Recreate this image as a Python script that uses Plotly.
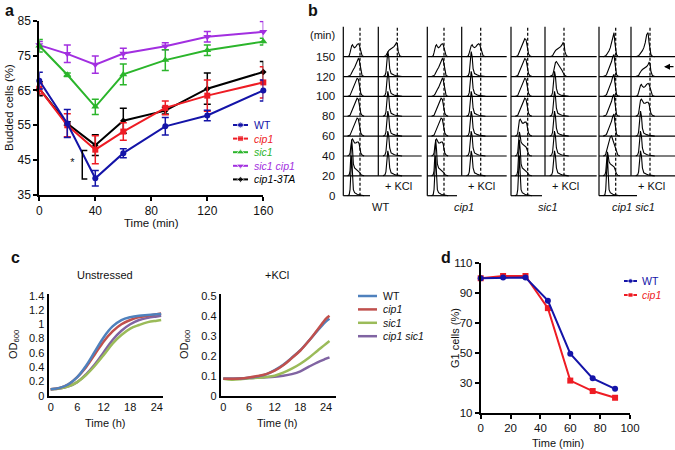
import plotly.graph_objects as go

W, H = 675, 450
def px(x): return x / W
def py(y): return 1 - y / H

FONT = "Liberation Sans, Arial, sans-serif"

# ---------------- Panel a data ----------------
time_a = [0, 20, 40, 60, 90, 120, 160]
wt_a = [67.8, 55.5, 39.8, 47.0, 54.7, 57.8, 65.0]
wt_a_err = [2.4, 4.0, 2.2, 1.3, 2.5, 1.5, 3.0]
cip1_a = [65.5, 55.0, 48.0, 53.2, 60.0, 63.5, 67.3]
cip1_a_err = [1.5, 3.3, 4.0, 2.5, 2.0, 4.5, 4.5]
sic1_a = [77.8, 69.5, 60.3, 69.6, 73.7, 76.5, 79.0]
sic1_a_err = [1.8, 0.5, 2.2, 3.0, 3.0, 1.5, 1.0]
sic1cip1_a = [78.0, 75.5, 72.4, 75.6, 77.7, 80.4, 81.8]
sic1cip1_a_err = [1.0, 2.5, 2.5, 1.5, 1.0, 1.5, 3.0]
cip13ta_a = [65.5, 55.5, 49.3, 56.3, 59.2, 65.5, 70.3]
cip13ta_a_err = [2.0, 0.5, 3.0, 3.6, 1.0, 4.5, 3.0]
labels_a = ["WT", "<i>cip1</i>", "<i>sic1</i>", "<i>sic1 cip1</i>", "<i>cip1-3TA</i>"]
sig_a = {"text": "*", "t": 23.7, "v": 44.1, "lo": 39.6, "hi": 47.8}

# ---------------- Panel b data ----------------
b_times = ["0", "20", "40", "60", "80", "100", "120", "150"]
b_strains = ["WT", "<i>cip1</i>", "<i>sic1</i>", "<i>cip1 sic1</i>"]
dna_grid = [0.5, 0.7, 0.8, 0.9, 1.0, 1.1, 1.2, 1.35, 1.5, 1.65, 1.8, 1.9, 2.0, 2.1, 2.25, 2.5]
prof_g1_sharp = [0, 1, 6, 26, 40, 22, 6, 3, 2, 1.5, 1.2, 1, 0.8, 0.5, 0.2, 0]
prof_g1_tail = [0, 1, 5, 22, 36, 26, 12, 8, 7, 6, 5, 4, 3, 1.5, 0.5, 0]
prof_g1_shoulder = [0, 1, 4, 14, 24, 20, 14, 12, 11, 10, 9, 7, 4, 2, 0.5, 0]
prof_two_hump = [0, 1, 3, 10, 16, 17, 15, 13, 13, 14, 14, 12, 7, 3, 1, 0]
prof_mid_s = [0, 0.5, 2, 5, 8, 11, 15, 19, 20, 16, 12, 9, 6, 3, 1, 0]
prof_late_s = [0, 0.5, 1, 3, 5, 7, 9, 12, 15, 18, 17, 13, 7, 3, 1, 0]
prof_g2 = [0, 0.5, 1, 2, 4, 5, 7, 9, 12, 15, 18, 17, 12, 5, 1, 0]
prof_late_tall = [0, 0.5, 1, 2, 4, 6, 8, 11, 15, 20, 22, 14, 6, 2, 0.5, 0]
prof_broad = [0, 1, 4, 9, 11, 12, 10, 9, 10, 12, 13, 12, 9, 4, 1, 0]
prof_g1_kcl = [0, 1, 4, 16, 25, 20, 8, 3, 2, 1.5, 1, 0.8, 0.5, 0.3, 0, 0]
prof_escape = [0, 0.5, 1, 3, 5, 6, 7, 8, 9, 10, 12, 14, 13, 5, 1, 0]
prof_skew = [0, 0.5, 1.5, 5, 10, 14, 15, 13, 10, 8, 6, 4, 2, 1, 0.3, 0]
prof_sharp_g2 = [0, 0.5, 1, 2, 3, 4, 6, 9, 14, 22, 24, 14, 5, 2, 0.5, 0]
profiles = {
    "g1_sharp": prof_g1_sharp, "g1_tail": prof_g1_tail, "g1_shoulder": prof_g1_shoulder,
    "two_hump": prof_two_hump, "mid_s": prof_mid_s, "late_s": prof_late_s, "g2": prof_g2,
    "late_tall": prof_late_tall, "broad": prof_broad, "g1_kcl": prof_g1_kcl,
    "escape": prof_escape, "skew": prof_skew, "sharp_g2": prof_sharp_g2,
}
# one profile name per time row (0 ... 150 min)
b_untreated = [
    ["g1_sharp", "g1_tail", "two_hump", "late_s", "late_s", "late_s", "g2", "broad"],
    ["g1_sharp", "g1_tail", "two_hump", "late_s", "late_s", "g2", "g2", "broad"],
    ["g1_sharp", "g1_tail", "g1_shoulder", "two_hump", "late_s", "late_s", "late_s", "late_s"],
    ["g1_sharp", "g1_shoulder", "mid_s", "late_tall", "late_tall", "late_tall", "late_tall", "sharp_g2"],
]
b_kcl = [
    [None, "g1_kcl", "g1_kcl", "g1_kcl", "g1_kcl", "g1_kcl", "g1_kcl", "escape"],
    [None, "g1_kcl", "g1_kcl", "g1_kcl", "g1_kcl", "g1_kcl", "g1_kcl", "broad"],
    [None, "g1_kcl", "g1_kcl", "g1_kcl", "g1_kcl", "g1_kcl", "skew", "escape"],
    [None, "g1_kcl", "g1_kcl", "g1_kcl", "two_hump", "broad", "escape", "sharp_g2"],
]

# ---------------- Panel c data ----------------
hours_c = [0, 2, 4, 6, 8, 10, 12, 14, 16, 18, 20, 22, 24, 25]
un_wt = [0.09, 0.11, 0.16, 0.26, 0.42, 0.62, 0.82, 0.97, 1.06, 1.10, 1.12, 1.13, 1.14, 1.145]
un_cip1 = [0.09, 0.11, 0.16, 0.26, 0.40, 0.58, 0.76, 0.90, 1.00, 1.06, 1.10, 1.12, 1.14, 1.15]
un_sic1 = [0.09, 0.10, 0.13, 0.19, 0.29, 0.42, 0.57, 0.73, 0.85, 0.94, 0.99, 1.03, 1.05, 1.06]
un_cip1sic1 = [0.09, 0.10, 0.13, 0.19, 0.30, 0.44, 0.61, 0.78, 0.91, 1.00, 1.06, 1.09, 1.11, 1.12]
hours_k = [0, 2, 4, 6, 8, 10, 12, 14, 16, 18, 20, 22, 24, 24.8]
k_wt = [0.085, 0.085, 0.086, 0.09, 0.096, 0.107, 0.128, 0.155, 0.19, 0.228, 0.275, 0.325, 0.372, 0.385]
k_cip1 = [0.085, 0.085, 0.086, 0.091, 0.098, 0.108, 0.125, 0.152, 0.188, 0.226, 0.275, 0.33, 0.385, 0.40]
k_sic1 = [0.085, 0.08, 0.082, 0.087, 0.09, 0.094, 0.10, 0.115, 0.135, 0.16, 0.19, 0.225, 0.26, 0.273]
k_cip1sic1 = [0.085, 0.085, 0.086, 0.088, 0.09, 0.092, 0.095, 0.10, 0.108, 0.122, 0.145, 0.167, 0.185, 0.192]
labels_c = ["WT", "<i>cip1</i>", "<i>sic1</i>", "<i>cip1 sic1</i>"]

# ---------------- Panel d data ----------------
time_d = [0, 15, 30, 45, 60, 75, 90]
g1_wt = [100, 100.5, 100.5, 85, 49.5, 33, 26]
g1_cip1 = [100, 101.5, 101.5, 80, 31.5, 24.5, 20]
labels_d = ["WT", "<i>cip1</i>"]

BLUE = "#1414a8"; RED = "#ee1c24"; GREEN = "#2bb52b"; PURPLE = "#a22fe0"; BLACK = "#000000"
CB = "#4F81BD"; CR = "#C0504D"; CG = "#9BBB59"; CP = "#8064A2"
TXT = "#111111"

fig = go.Figure()

def canvas(**kw):
    kw.setdefault("showlegend", False)
    kw.setdefault("hoverinfo", "skip")
    fig.add_trace(go.Scatter(xaxis="x6", yaxis="y6", **kw))

annotations = []
def note(x, y, t, size=11, color=TXT, angle=0, anchor="center", bold=False):
    annotations.append(dict(x=px(x), y=py(y), xref="paper", yref="paper",
                            text=("<b>%s</b>" % t) if bold else t, showarrow=False,
                            xanchor=anchor, yanchor="middle", textangle=angle,
                            font=dict(size=size, color=color, family=FONT)))

# ---------------- Panel a ----------------
series_a = [
    (labels_a[3], sic1cip1_a, sic1cip1_a_err, PURPLE, "triangle-down", 7),
    (labels_a[2], sic1_a, sic1_a_err, GREEN, "triangle-up", 7),
    (labels_a[4], cip13ta_a, cip13ta_a_err, BLACK, "diamond", 5),
    (labels_a[1], cip1_a, cip1_a_err, RED, "square", 6),
    (labels_a[0], wt_a, wt_a_err, BLUE, "circle", 6),
]
for name, ys, es, col, sym, sz in series_a:
    fig.add_trace(go.Scatter(
        x=time_a, y=ys, mode="lines+markers", name=name, showlegend=False,
        line=dict(color=col, width=2), marker=dict(symbol=sym, size=sz, color=col),
        error_y=dict(type="data", array=es, visible=True, color=col, thickness=1.5, width=3.5),
        cliponaxis=False, xaxis="x", yaxis="y"))
t0 = sig_a["t"] + 7.0; t1 = sig_a["t"] + 10.6
fig.add_trace(go.Scatter(x=[t1, t0, t0, t1], y=[sig_a["hi"], sig_a["hi"], sig_a["lo"], sig_a["lo"]],
                         mode="lines", line=dict(color="black", width=1.5), showlegend=False,
                         cliponaxis=False, xaxis="x", yaxis="y", hoverinfo="skip"))
fig.add_trace(go.Scatter(x=[sig_a["t"]], y=[sig_a["v"]], mode="text", text=[sig_a["text"]],
                         textfont=dict(size=11, color=TXT, family=FONT), showlegend=False,
                         cliponaxis=False, xaxis="x", yaxis="y", hoverinfo="skip"))

leg_a = [(labels_a[0], BLUE, "circle", 6), (labels_a[1], RED, "square", 6), (labels_a[2], GREEN, "triangle-up", 7),
         (labels_a[3], PURPLE, "triangle-down", 7), (labels_a[4], BLACK, "diamond", 5)]
for i, (lab, col, sym, sz) in enumerate(leg_a):
    yy = 125 + i * 13.6
    canvas(x=[233, 240.5, 248], y=[yy, yy, yy], mode="lines+markers",
           line=dict(color=col, width=2), marker=dict(symbol=sym, size=[0, sz, 0], color=col))
    note(252, yy, lab, 10.5, col, anchor="left")

# ---------------- Panel b ----------------
top_b = 26.7
base0 = 195.7
row_h = 19.86
col_u = [343.3, 427.3, 511.0, 599.0]
col_k = [378.3, 461.7, 545.0, 631.0]
right_end = [421.7, 506.7, 596.7, 675.0]
bottom_end = [370.0, 457.0, 542.0, 637.0]
U_C1, U_C2 = 8.4, 16.7
K_C1, K_C2 = 9.5, 19.0

def base_y(r):
    return base0 - r * row_h

solid_x, solid_y, dash_x, dash_y, hist_x, hist_y = [], [], [], [], [], []
for s in range(4):
    ua, ka = col_u[s], col_k[s]
    for r in range(len(b_times)):
        x_end = bottom_end[s] if r == 0 else right_end[s]
        solid_x += [ua, x_end, None]; solid_y += [base_y(r), base_y(r), None]
    solid_x += [ua, ua, None, ka, ka, None]
    solid_y += [base_y(0), top_b, None, base_y(1), top_b, None]
    dash_x += [ua + U_C2, ua + U_C2, None, ka + K_C2, ka + K_C2, None]
    dash_y += [base_y(0), top_b, None, base_y(1), top_b, None]
    for cols, axx, c1, c2 in ((b_untreated, ua, U_C1, U_C2), (b_kcl, ka, K_C1, K_C2)):
        for r, pname in enumerate(cols[s]):
            if pname is None:
                continue
            prof = profiles[pname]
            for d, h in zip(dna_grid, prof):
                hist_x.append(axx + c1 + (d - 1) * (c2 - c1))
                hist_y.append(base_y(r) - h)
            hist_x.append(None); hist_y.append(None)

canvas(x=solid_x, y=solid_y, mode="lines", line=dict(color="black", width=1.2))
canvas(x=dash_x, y=dash_y, mode="lines", line=dict(color="black", width=1.2, dash="3px,2px"))
canvas(x=hist_x, y=hist_y, mode="lines", line=dict(color="black", width=1.1))

for r, t in enumerate(b_times):
    note(337, base_y(r), t, 11.5, anchor="right")
note(337, 35, "(min)", 11, anchor="right")
for s, name in enumerate(b_strains):
    note(col_k[s] + 2.5, 207, name, 11)
    note(col_k[s] + 20, 185.5, "+ KCl", 11)
annotations.append(dict(x=px(664), y=py(66.7), ax=11, ay=0, text="", showarrow=True, arrowhead=2,
                        arrowsize=1, arrowwidth=1.2, arrowcolor="black", xref="paper", yref="paper"))

# ---------------- Panel c ----------------
for ys, col in ((un_cip1sic1, CP), (un_sic1, CG), (un_cip1, CR), (un_wt, CB)):
    fig.add_trace(go.Scatter(x=hours_c, y=ys, mode="lines", line=dict(color=col, width=2.5, shape="spline"),
                             showlegend=False, xaxis="x3", yaxis="y3", hoverinfo="skip"))
for ys, col in ((k_cip1sic1, CP), (k_sic1, CG), (k_wt, CB), (k_cip1, CR)):
    fig.add_trace(go.Scatter(x=hours_k, y=ys, mode="lines", line=dict(color=col, width=2.5, shape="spline"),
                             showlegend=False, xaxis="x4", yaxis="y4", hoverinfo="skip"))
for i, (lab, col) in enumerate(zip(labels_c, [CB, CR, CG, CP])):
    yy = 296 + i * 13.4
    canvas(x=[358, 377], y=[yy, yy], mode="lines", line=dict(color=col, width=2.5))
    note(381, yy, lab, 10.5, anchor="left")

# ---------------- Panel d ----------------
fig.add_trace(go.Scatter(x=time_d, y=g1_cip1, mode="lines+markers", line=dict(color=RED, width=2),
                         marker=dict(symbol="square", size=6, color=RED), showlegend=False,
                         xaxis="x5", yaxis="y5", cliponaxis=False))
fig.add_trace(go.Scatter(x=time_d, y=g1_wt, mode="lines+markers", line=dict(color=BLUE, width=2),
                         marker=dict(symbol="circle", size=6, color=BLUE), showlegend=False,
                         xaxis="x5", yaxis="y5", cliponaxis=False))
for i, (lab, col, sym) in enumerate(zip(labels_d, [BLUE, RED], ["circle", "square"])):
    yy = 281 + i * 14
    canvas(x=[624, 630.5, 637], y=[yy, yy, yy], mode="lines+markers", line=dict(color=col, width=2),
           marker=dict(symbol=sym, size=[0, 5, 0], color=col))
    note(640, yy, lab, 10.5, col, anchor="left")

# ---------------- text labels ----------------
note(9, 10, "a", 16, bold=True)
note(313, 10, "b", 16, bold=True)
note(15, 257, "c", 16, bold=True)
note(446, 257, "d", 16, bold=True)
note(151, 223, "Time (min)", 11.5)
note(9, 108, "Budded cells (%)", 11.5, angle=-90)
note(105, 274.5, "Unstressed", 11)
note(277, 274.5, "+KCl", 11)
note(105, 423, "Time (h)", 11)
note(277, 423, "Time (h)", 11)
note(14, 345, "OD<sub>600</sub>", 11, angle=-90)
note(185, 345, "OD<sub>600</sub>", 11, angle=-90)
note(558, 443, "Time (min)", 11)
note(455, 338, "G1 cells (%)", 11, angle=-90)

axfont = dict(family=FONT, size=12, color=TXT)
f11 = dict(family=FONT, size=11, color=TXT)
common = dict(showgrid=False, zeroline=False, showline=True, linecolor="black", fixedrange=True,
              automargin=False, tickcolor="black")

fig.update_layout(
    template="none",
    width=W, height=H, margin=dict(l=0, r=0, t=0, b=0, pad=0, autoexpand=False),
    paper_bgcolor="white", plot_bgcolor="rgba(0,0,0,0)",
    font=dict(family=FONT, color=TXT),
    showlegend=False,
    annotations=annotations,
    xaxis=dict(domain=[px(39.3), px(263.3)], range=[0, 160], tickvals=[0, 40, 80, 120, 160],
               ticks="outside", ticklen=4, tickwidth=1.5, linewidth=2, tickfont=axfont, anchor="y", **common),
    yaxis=dict(domain=[py(195), py(20.7)], range=[35, 85], tickvals=[35, 45, 55, 65, 75, 85],
               ticks="outside", ticklen=4, tickwidth=1.5, linewidth=2, tickfont=axfont, anchor="x", **common),
    xaxis3=dict(domain=[px(48.5), px(162.5)], range=[-0.5, 25.3], tickvals=[0, 6, 12, 18, 24], ticks="",
                linewidth=2, tickfont=f11, anchor="y3", **common),
    yaxis3=dict(domain=[py(395.7), py(294.3)], range=[0, 1.42], tickvals=[0, 0.2, 0.4, 0.6, 0.8, 1, 1.2, 1.4],
                ticks="", linewidth=2, tickfont=f11, anchor="x3", **common),
    xaxis4=dict(domain=[px(220.7), px(335.5)], range=[-0.6, 26.2], tickvals=[0, 6, 12, 18, 24], ticks="",
                linewidth=2, tickfont=f11, anchor="y4", **common),
    yaxis4=dict(domain=[py(395.7), py(294.3)], range=[0, 0.507], tickvals=[0, 0.1, 0.2, 0.3, 0.4, 0.5],
                ticks="", linewidth=2, tickfont=f11, anchor="x4", **common),
    xaxis5=dict(domain=[px(480.7), px(630)], range=[0, 100], tickvals=[0, 20, 40, 60, 80, 100],
                ticks="outside", ticklen=4, tickwidth=1.5, linewidth=1.8,
                tickfont=dict(family=FONT, size=11.5, color=TXT), anchor="y5", **common),
    yaxis5=dict(domain=[py(412.7), py(263.3)], range=[10, 110], tickvals=[10, 30, 50, 70, 90, 110],
                ticks="outside", ticklen=4, tickwidth=1.5, linewidth=1.8,
                tickfont=dict(family=FONT, size=11.5, color=TXT), anchor="x5", **common),
    xaxis6=dict(domain=[0, 1], range=[0, W], visible=False, fixedrange=True, automargin=False, anchor="y6"),
    yaxis6=dict(domain=[0, 1], range=[H, 0], visible=False, fixedrange=True, automargin=False, anchor="x6"),
)

fig.write_html("out.html", config={"displayModeBar": False},
               post_script="document.body.style.margin='0';document.body.style.overflow='hidden';")
